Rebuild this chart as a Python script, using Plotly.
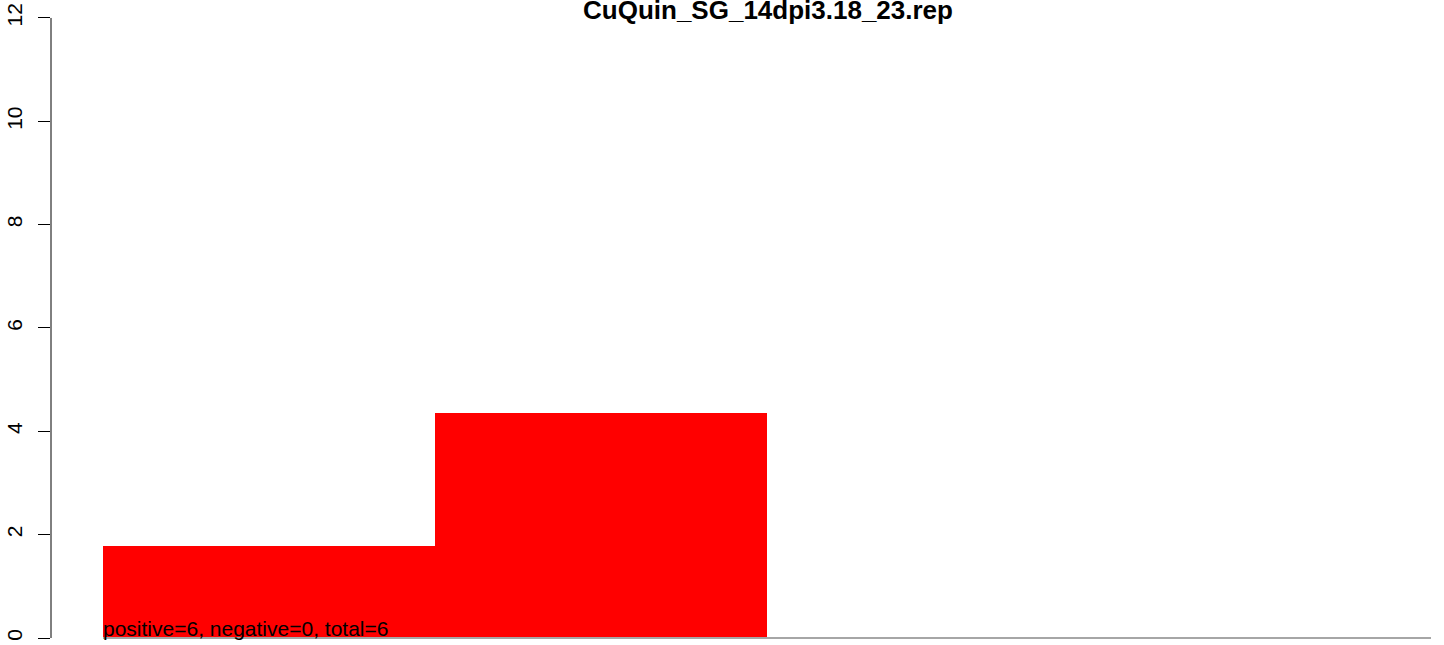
import plotly.graph_objects as go

# ---- data ----
bin_positions = [0.5, 1.5, 2.5, 3.5]
bar_values = [1.78, 4.36, 0.0, 0.0]
bin_edges = [0, 4]
y_ticks = [0, 2, 4, 6, 8, 10, 12]
title_text = "CuQuin_SG_14dpi3.18_23.rep"
note_text = "positive=6, negative=0, total=6"

FONT = "Liberation Sans, Arial, Helvetica, sans-serif"

fig = go.Figure()

fig.add_trace(go.Scatter(
    x=bin_edges, y=[0, 0], mode="lines",
    line=dict(color="#a6a6a6", width=2), hoverinfo="skip", showlegend=False,
))

fig.add_trace(go.Bar(
    x=bin_positions, y=bar_values, width=1,
    marker=dict(color="#ff0000", line=dict(width=0)),
    showlegend=False,
))

fig.add_annotation(
    x=bin_edges[0], y=0, xref="x", yref="y",
    text=note_text, showarrow=False,
    xanchor="left", yanchor="bottom", yshift=-4, xshift=-2,
    font=dict(family=FONT, size=21, color="black"),
)

# y axis line spanning only the tick range
fig.add_shape(type="line", xref="paper", yref="y",
              x0=0, x1=0, y0=min(y_ticks), y1=max(y_ticks),
              line=dict(color="black", width=1))

fig.update_layout(
    width=1444, height=645,
    margin=dict(l=51, r=0, t=0, b=0, autoexpand=False),
    paper_bgcolor="white", plot_bgcolor="white",
    bargap=0,
    title=dict(text="<b>" + title_text + "</b>", x=768 / 1444, xref="container",
               xanchor="center", y=1 - 10 / 645, yref="container", yanchor="middle",
               automargin=False,
               font=dict(family=FONT, size=26, color="black")),
    xaxis=dict(range=[(51 - 103) / 332, (1444 - 103) / 332], showgrid=False,
               zeroline=False, showticklabels=False, ticks="", showline=False,
               automargin=False),
    yaxis=dict(range=[-7 / 51.67, 638 / 51.67], showgrid=False, zeroline=False,
               tickvals=y_ticks, ticktext=[str(v) for v in y_ticks],
               ticks="outside", ticklen=12, tickwidth=1, tickcolor="black",
               tickangle=-90, showline=False, automargin=False,
               ticklabelstandoff=8,
               tickfont=dict(family=FONT, size=21, color="black")),
)

fig.write_html("out.html", config={"displayModeBar": False},
               post_script="document.body.style.margin='0';")
